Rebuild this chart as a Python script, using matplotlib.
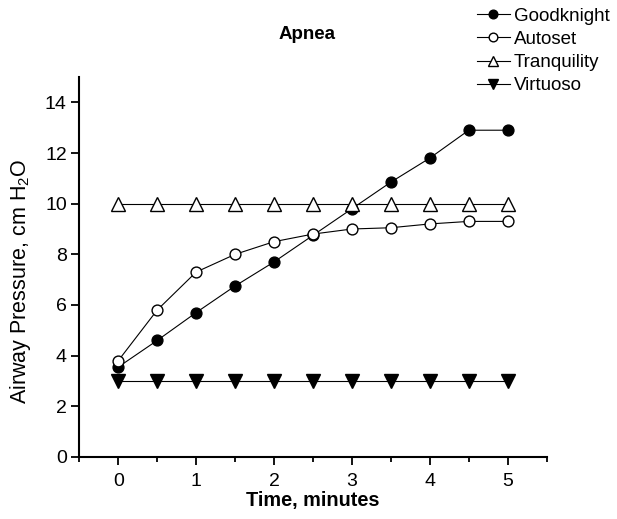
import matplotlib
matplotlib.use("Agg")
import matplotlib.pyplot as plt
from matplotlib.ticker import MultipleLocator

plt.rcParams['font.family'] = ['Liberation Sans', 'DejaVu Sans']
plt.rcParams['mathtext.default'] = 'regular'

# data
time_min = [0, 0.5, 1, 1.5, 2, 2.5, 3, 3.5, 4, 4.5, 5]
goodknight = [3.55, 4.6, 5.7, 6.75, 7.7, 8.75, 9.8, 10.85, 11.8, 12.9, 12.9]
autoset = [3.8, 5.8, 7.3, 8.0, 8.5, 8.8, 9.0, 9.05, 9.2, 9.3, 9.3]
tranquility = [10, 10, 10, 10, 10, 10, 10, 10, 10, 10, 10]
virtuoso = [3, 3, 3, 3, 3, 3, 3, 3, 3, 3, 3]

fig = plt.figure(figsize=(6.17, 5.19), dpi=100)
ax = fig.add_axes([0.1285, 0.1195, 0.886 - 0.1285, 0.8516 - 0.1195])

lw = 0.8
ms = 7.8
l1, = ax.plot(time_min, goodknight, color='black', lw=lw, marker='o', ms=ms,
              mfc='black', mec='black', label='Goodknight', zorder=3)
l2, = ax.plot(time_min, autoset, color='black', lw=lw, marker='o', ms=ms,
              mfc='white', mec='black', mew=1.0, label='Autoset', zorder=4)
l3, = ax.plot(time_min, tranquility, color='black', lw=lw, marker='^', ms=9.5,
              mfc='white', mec='black', mew=1.0, label='Tranquility', zorder=3)
l4, = ax.plot(time_min, virtuoso, color='black', lw=lw, marker='v', ms=9.5,
              mfc='black', mec='black', label='Virtuoso', zorder=3)

ax.set_xlim(-0.5, 5.5)
ax.set_ylim(0, 15)
ax.xaxis.set_major_locator(MultipleLocator(1))
ax.xaxis.set_minor_locator(MultipleLocator(0.5))
ax.yaxis.set_major_locator(MultipleLocator(2))

for s in ['top', 'right']:
    ax.spines[s].set_visible(False)
for s in ['left', 'bottom']:
    ax.spines[s].set_linewidth(1.5)

ax.tick_params(axis='both', which='major', direction='out', length=6, width=1.3,
               labelsize=14)
ax.tick_params(axis='y', which='major', pad=3)
ax.tick_params(axis='x', which='major', pad=5.5)
ax.tick_params(axis='x', which='minor', direction='out', length=3.5, width=1.3)

ax.set_xlabel('Time, minutes', fontsize=14.3, fontweight='bold', labelpad=1)
ax.set_ylabel('Airway Pressure, cm H$_2$O', fontsize=15.5)
ax.yaxis.set_label_coords(-0.1, 0.463)
fig.text(0.497, 0.934, 'Apnea', fontsize=13.5, fontweight='bold', ha='center', va='center')

fig.legend(handles=[l1, l2, l3, l4], loc='upper left', bbox_to_anchor=(0.773, 0.985),
           frameon=False, fontsize=13.5, handlelength=1.76, handletextpad=0.2,
           labelspacing=0.32, borderpad=0, borderaxespad=0, markerscale=0.8)

fig.savefig('out.png', dpi=100)
